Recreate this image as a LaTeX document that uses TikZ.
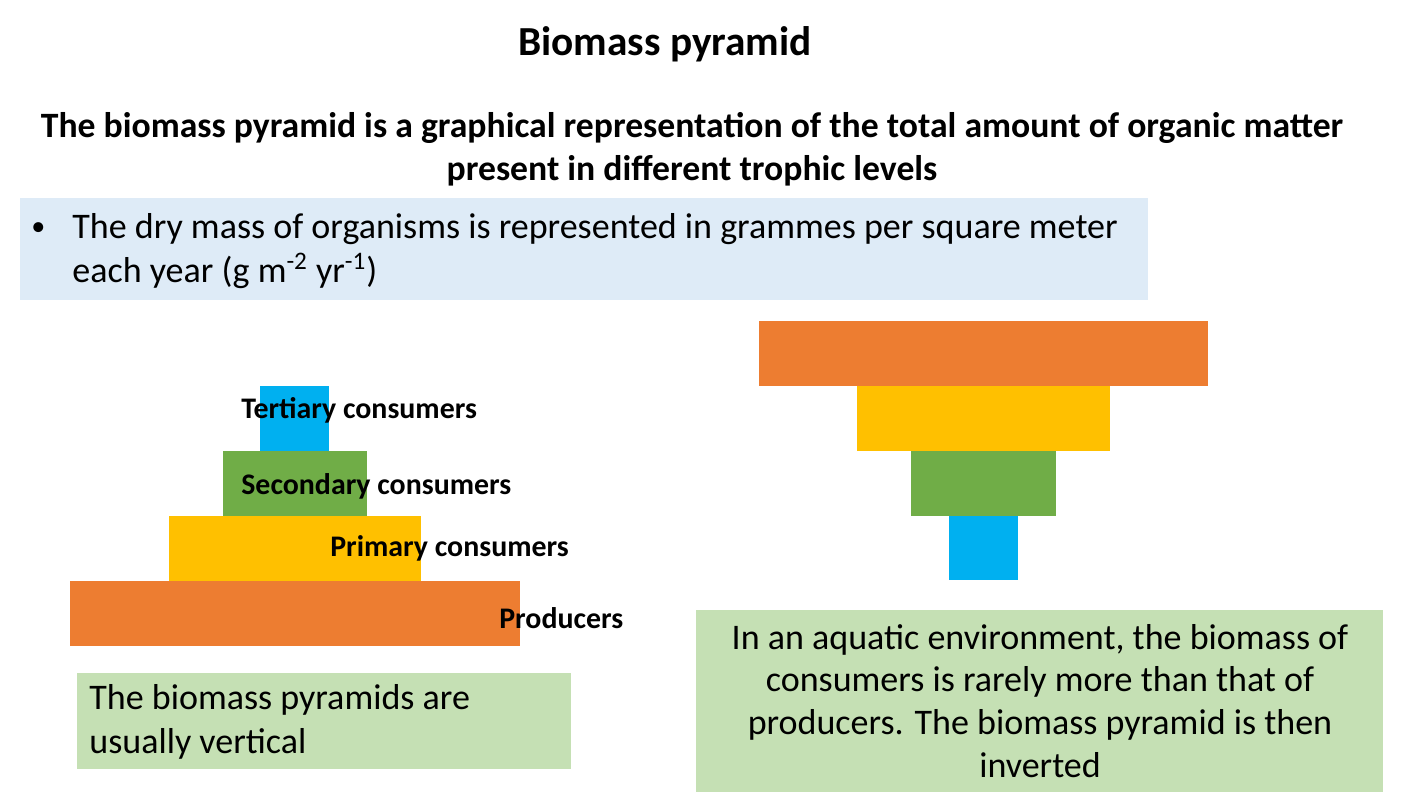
\documentclass[tikz,border=0pt]{standalone}
\usepackage{fontspec}
\setmainfont{Carlito}
\usetikzlibrary{positioning}
\definecolor{lvlorange}{HTML}{ED7D31}
\definecolor{lvlyellow}{HTML}{FFC000}
\definecolor{lvlgreen}{HTML}{70AD47}
\definecolor{lvlblue}{HTML}{00B0F0}
\definecolor{notegreen}{HTML}{C5E0B4}
\definecolor{noteblue}{HTML}{DEEBF7}
\tikzset{
    % bars of the pyramids
    bar/.style={rectangle, inner sep=0pt, minimum height=1.3cm},
    % level labels
    lvl/.style={anchor=west, inner sep=0pt, font=\fontsize{17}{20}\selectfont\bfseries},
    % text boxes
    note/.style={rectangle, inner sep=0pt, anchor=north west},
    body/.style={inner sep=0pt, font=\fontsize{20.5}{25}\selectfont}
}
\begin{document}
\begin{tikzpicture}[x=0.02cm, y=-0.02cm]
    \useasboundingbox (0,0) rectangle (1427,803);
    \node[font=\fontsize{23.5}{28}\selectfont\bfseries] (title) at (665,44) {Biomass pyramid};
    \node[align=center, inner sep=0pt, font=\fontsize{20.3}{24.5}\selectfont\bfseries] (sub) at (692,149)
        {The biomass pyramid is a graphical representation of the total amount of organic matter\\
         present in different trophic levels};
    % bullet box
    \node[note, fill=noteblue, minimum width=22.56cm, minimum height=2.04cm] (bullet) at (20,198) {};
    \node[body, anchor=west, font=\fontsize{16}{20}\selectfont] (dot) at (31,229) {•};
    \node[body, anchor=west, align=left] (drytext) at (72,251)
        {The dry mass of organisms is represented in grammes per square meter\\
         each year (g m\textsuperscript{-2} yr\textsuperscript{-1})};
    % upright pyramid
    \node[bar, fill=lvlblue, minimum width=1.38cm] (t1) at (294.5,418.5) {};
    \node[bar, fill=lvlgreen, minimum width=2.88cm] (s1) at (295,483.5) {};
    \node[bar, fill=lvlyellow, minimum width=5.04cm] (p1) at (295,548.5) {};
    \node[bar, fill=lvlorange, minimum width=9cm] (r1) at (295,613.5) {};
    \node[lvl] (tlab) at (241,410) {Tertiary consumers};
    \node[lvl] (slab) at (241,486) {Secondary consumers};
    \node[lvl] (plab) at (330,548) {Primary consumers};
    \node[lvl] (rlab) at (499,618) {Producers};
    % inverted pyramid
    \node[bar, fill=lvlorange, minimum width=8.98cm] (r2) at (983.5,353.5) {};
    \node[bar, fill=lvlyellow, minimum width=5.06cm] (p2) at (983.5,418.5) {};
    \node[bar, fill=lvlgreen, minimum width=2.9cm] (s2) at (983.5,483.5) {};
    \node[bar, fill=lvlblue, minimum width=1.38cm] (t2) at (983.5,548) {};
    % notes
    \node[note, fill=notegreen, minimum width=9.88cm, minimum height=1.92cm] (upnote) at (77,673) {};
    \node[body, anchor=west, align=left] (uptext) at (89,722)
        {The biomass pyramids are\\
         usually vertical};
    \node[note, fill=notegreen, minimum width=13.74cm, minimum height=3.64cm] (invnote) at (696,610) {};
    \node[body, align=center, font=\fontsize{20.5}{24.4}\selectfont] (invtext) at (1040,701)
        {In an aquatic environment, the biomass of\\
         consumers is rarely more than that of\\
         producers. The biomass pyramid is then\\
         inverted};
\end{tikzpicture}
\end{document}
